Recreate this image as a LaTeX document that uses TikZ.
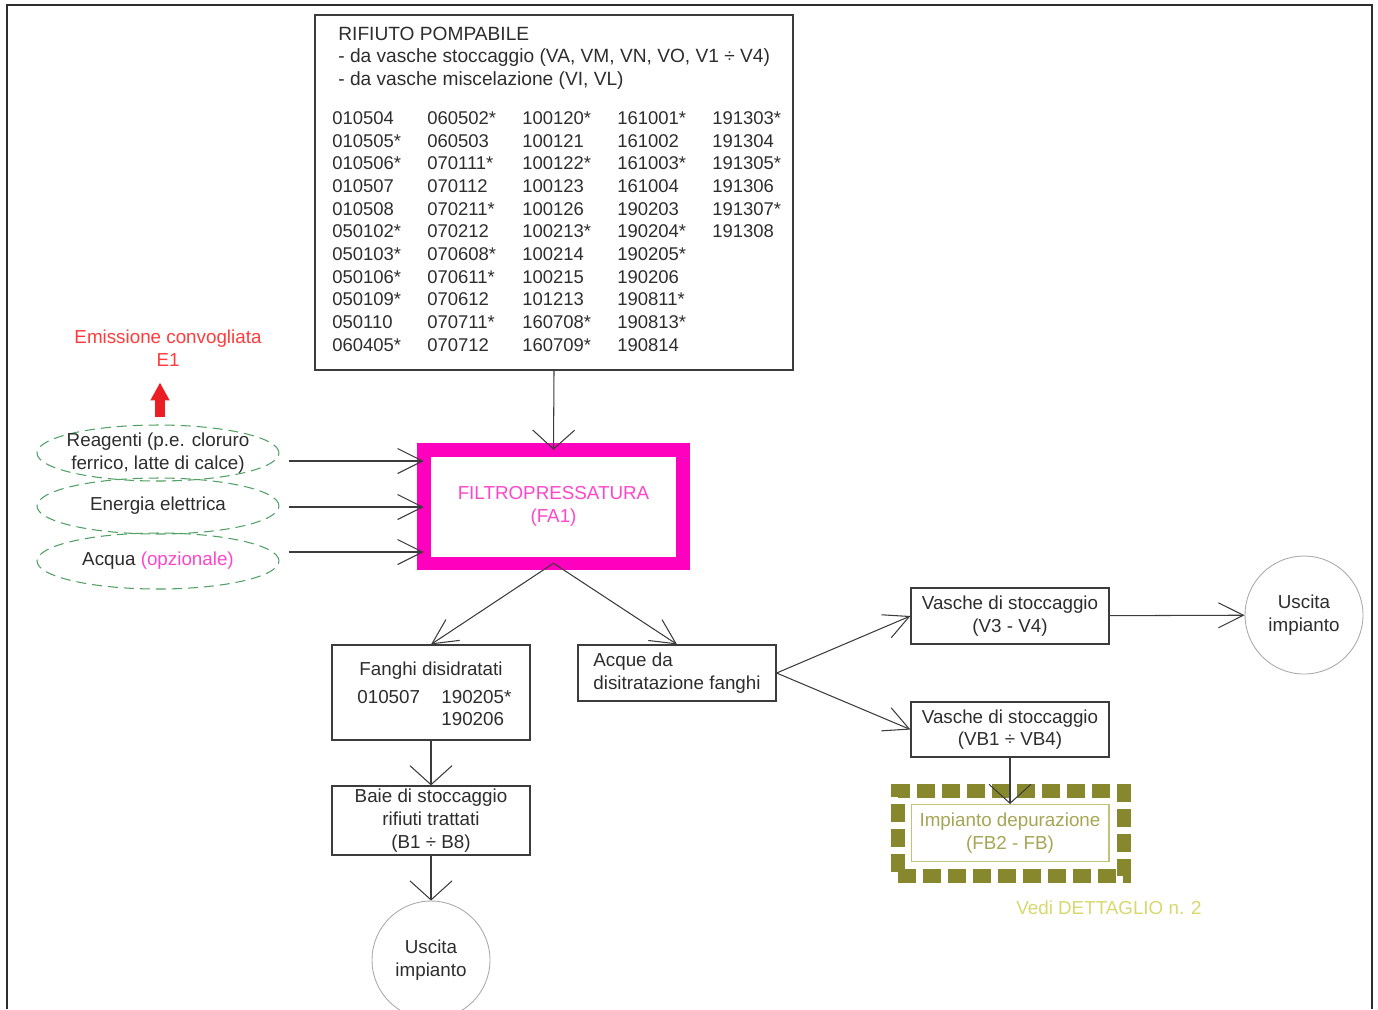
\documentclass[tikz,border=0pt]{standalone}
\usepackage{fontspec}
\setmainfont{Liberation Sans}
\usetikzlibrary{arrows.meta}
\usetikzlibrary{shapes.geometric}

\definecolor{linegray}{RGB}{60,60,60}
\definecolor{textgray}{RGB}{45,45,45}
\definecolor{fucsia}{RGB}{255,0,190}
\definecolor{fucsiatext}{RGB}{255,70,200}
\definecolor{verde}{RGB}{80,160,100}
\definecolor{rosso}{RGB}{235,30,35}
\definecolor{rossotext}{RGB}{255,60,60}
\definecolor{oliva}{RGB}{135,135,45}
\definecolor{olivachiaro}{RGB}{195,195,120}
\definecolor{olivatext}{RGB}{165,165,85}
\definecolor{giallo}{RGB}{215,215,110}
\definecolor{cerchio}{RGB}{170,170,170}

\tikzset{
  box/.style={draw=linegray, line width=0.7pt, inner sep=0pt, align=center, text=textgray},
  code/.style={anchor=west, inner sep=0pt, text=textgray},
  head/.style={code, font=\fontsize{10.9}{12.9}\selectfont},
  ellisse/.style={ellipse, draw=verde, line width=0.6pt, dash pattern=on 0.2cm off 0.12cm,
    minimum width=4.84cm, minimum height=1.12cm, inner xsep=-0.6cm, inner ysep=-0.15cm,
    align=center, text=textgray},
  uscita/.style={circle, draw=cerchio, line width=0.5pt, minimum size=2.36cm, inner sep=0pt,
    align=center, text=textgray},
  flow/.style={draw=linegray, line width=0.6pt, -{Straight Barb[length=0.5cm,width=0.5cm]}},
  flowdown/.style={draw=linegray, line width=0.6pt, -{Straight Barb[length=0.38cm,width=0.84cm]}},
  emis/.style={draw=rosso, line width=0.2cm, -{Triangle[length=0.36cm,width=0.36cm]}}
}

\begin{document}
\begin{tikzpicture}[x=0.02cm, y=-0.02cm,
  every node/.append style={font=\fontsize{10.7}{12.9}\selectfont}]
  \useasboundingbox (0,0) rectangle (1378,1009);

  % frame
  \draw[draw=textgray, line width=1.1pt] (7,1009) -- (7,5) -- (1372,5) -- (1372,1009);

  % pumpable waste
  \node[box, minimum width=9.56cm, minimum height=7.1cm] (src) at (554,192.5) {};
  \node[head] (src-t) at (338,34) {RIFIUTO POMPABILE};
  \node[head] (src-a) at (338,58) {- da vasche stoccaggio (VA, VM, VN, VO, V1 ÷ V4)};
  \node[head] (src-b) at (338,81) {- da vasche miscelazione (VI, VL)};
  \foreach \col [count=\m] in {
    {010504, 010505*, 010506*, 010507, 010508, 050102*, 050103*, 050106*, 050109*, 050110, 060405*},
    {060502*, 060503, 070111*, 070112, 070211*, 070212, 070608*, 070611*, 070612, 070711*, 070712},
    {100120*, 100121, 100122*, 100123, 100126, 100213*, 100214, 100215, 101213, 160708*, 160709*},
    {161001*, 161002, 161003*, 161004, 190203, 190204*, 190205*, 190206, 190811*, 190813*, 190814},
    {191303*, 191304, 191305*, 191306, 191307*, 191308},
    } {
      % codes
      \foreach \c [count=\n] in \col {
        \node[code, font=\fontsize{10.5}{12.9}\selectfont] (c\m-\n)
          at ({332+95*(\m-1)}, {118+22.7*(\n-1)}) {\c};
      }
    }

  % filter press
  \node[draw=fucsia, line width=0.27cm, minimum width=5.19cm, minimum height=2.27cm,
    outer sep=0pt, align=center, text=fucsiatext] (fa) at (553.5,506.5)
    {FILTROPRESSATURA\\(FA1)};

  % inputs
  \node[ellisse] (e1) at (158,453) {Reagenti (p.e. cloruro\\ferrico, latte di calce)};
  \node[ellisse] (e2) at (158,506) {Energia elettrica};
  \node[ellisse] (e3) at (158,561) {Acqua \textcolor{fucsiatext}{(opzionale)}};
  \node[align=center, text=rossotext] (em) at (168,348) {Emissione convogliata\\E1};
  \draw[emis] ([shift={(2,-7)}]e1.north) -- ([shift={(2,-42)}]e1.north);

  % outputs
  \node[box, minimum width=3.96cm, minimum height=1.9cm] (fanghi) at (431,692.5) {};
  \node[text=textgray, inner sep=0pt] (fanghi-t) at (431,671) {Fanghi disidratati};
  \node[code] (f1) at (357,697) {010507};
  \node[code] (f2) at (441,697) {190205*};
  \node[code] (f3) at (441,719) {190206};
  \node[box, minimum width=3.96cm, minimum height=1.38cm] (baie) at (431,820.5)
    {Baie di stoccaggio\\rifiuti trattati\\(B1 ÷ B8)};
  \node[uscita] (out2) at (431,960) {Uscita\\impianto};
  \node[box, minimum width=3.96cm, minimum height=1.12cm, align=left] (acque) at (677,673)
    {Acque da\\disitratazione fanghi};
  \node[box, minimum width=3.96cm, minimum height=1.12cm] (v1) at (1010,616)
    {Vasche di stoccaggio\\(V3 - V4)};
  \node[box, minimum width=3.96cm, minimum height=1.1cm] (v2) at (1010,729.5)
    {Vasche di stoccaggio\\(VB1 ÷ VB4)};
  \node[uscita] (out1) at (1304,615) {Uscita\\impianto};

  % treatment plant
  \node[draw=oliva, line width=0.28cm, dash pattern=on 0.36cm off 0.14cm,
    minimum width=4.52cm, minimum height=1.7cm] (dep-fr) at (1011,833.5) {};
  \node[draw=olivachiaro, line width=0.6pt, minimum width=3.96cm, minimum height=1.14cm,
    inner sep=0pt, align=center, text=olivatext] (dep) at (1010,833)
    {Impianto depurazione\\(FB2 - FB)};
  \node[text=giallo] (vedi) at (1109,908) {Vedi DETTAGLIO n. 2};

  % connectors
  \foreach \e/\dy in {e1/8, e2/1, e3/-9} {
    \coordinate (r-\e) at ([shift={(9,\dy)}]\e.east);
    \draw[flow] (r-\e) -- (r-\e -| fa.west);
  }
  \draw[flowdown] (src.south) -- (fa.north);
  \draw[flow] (fa.south) -- (fanghi.north);
  \draw[flow] (fa.south) -- (acque.north);
  \draw[flowdown] (fanghi) -- (baie);
  \draw[flowdown] (baie) -- (out2);
  \draw[flow] (acque.east) -- (v1.west);
  \draw[flow] (acque.east) -- (v2.west);
  \draw[flow] (v1) -- (out1);
  \draw[flowdown] (v2) -- (dep);
\end{tikzpicture}
\end{document}
